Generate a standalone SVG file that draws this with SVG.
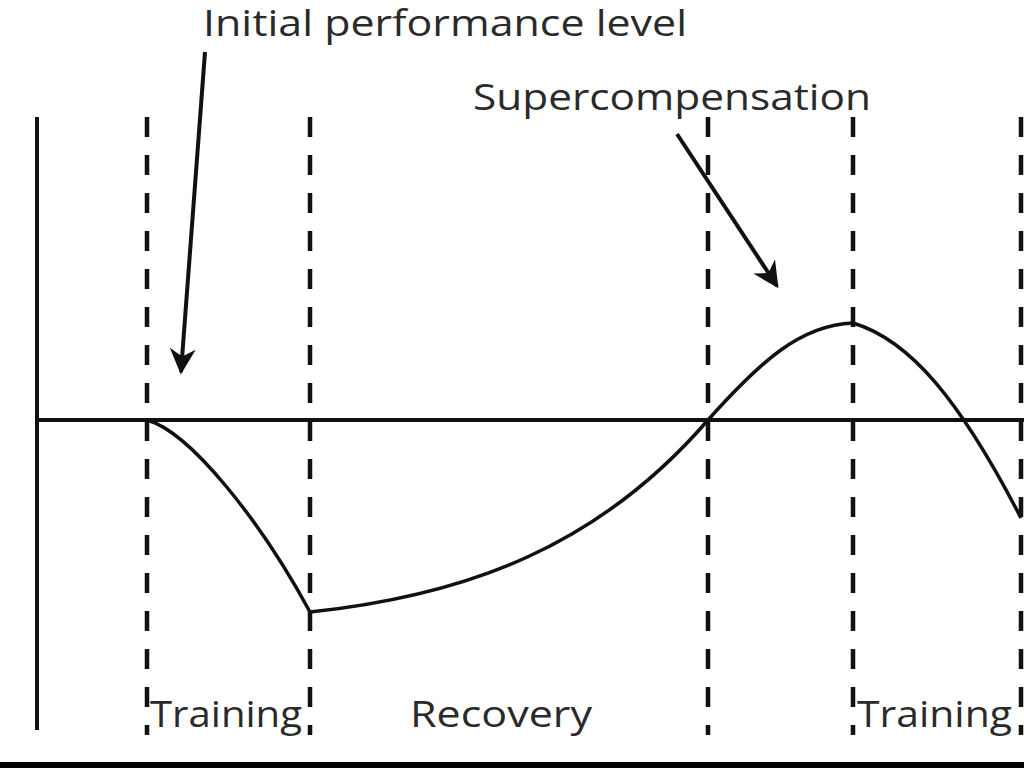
<svg xmlns="http://www.w3.org/2000/svg" width="1024" height="768" viewBox="0 0 1024 768">
<style>
.ax{stroke:#111;stroke-width:4;fill:none}
.dash{stroke:#111;stroke-width:4.5;stroke-dasharray:20 18;fill:none}
.curve{stroke:#111;stroke-width:3.5;fill:none;stroke-linejoin:round}
.arr{stroke:#111;stroke-width:4;fill:none}
.t{font-family:"Open Sans","Liberation Sans",sans-serif;fill:#2a2a2a;font-size:36px}
</style>
<defs>
<marker id="ah" viewBox="0 0 10 10" refX="9" refY="5" markerWidth="6.5" markerHeight="6.5" markerUnits="strokeWidth" orient="auto">
<path d="M0,0 L10,5 L0,10 L3,5 Z" fill="#111"/>
</marker>
</defs>
<rect width="1024" height="768" fill="#fff"/>
<g id="axes">
<line class="ax" x1="37" y1="117" x2="37" y2="730"/>
<line class="ax" x1="37" y1="420" x2="1024" y2="420"/>
</g>
<g id="dividers">
<line class="dash" x1="147" y1="117" x2="147" y2="735"/>
<line class="dash" x1="310" y1="117" x2="310" y2="735"/>
<line class="dash" x1="708" y1="117" x2="708" y2="735"/>
<line class="dash" x1="853" y1="117" x2="853" y2="735"/>
<line class="dash" x1="1021" y1="117" x2="1021" y2="735"/>
</g>
<g id="curve">
<path class="curve" d="M147,420 C190,432 260,520 310,612 C470,595 600,545 708,420 C760,362 800,325 853,323 C910,340 960,400 1021,518"/>
</g>
<g id="connectors">
<line class="arr" x1="205" y1="52" x2="181" y2="372" marker-end="url(#ah)"/>
<line class="arr" x1="677" y1="134" x2="777" y2="286" marker-end="url(#ah)"/>
</g>
<g id="labels">
<text class="t" x="203" y="36" font-size="33" textLength="484" lengthAdjust="spacingAndGlyphs">Initial performance level</text>
<text class="t" x="473" y="110" textLength="398" lengthAdjust="spacingAndGlyphs">Supercompensation</text>
<text class="t" x="150" y="727" textLength="152" lengthAdjust="spacingAndGlyphs">Training</text>
<text class="t" x="410" y="727" textLength="182" lengthAdjust="spacingAndGlyphs">Recovery</text>
<text class="t" x="857" y="727" textLength="155" lengthAdjust="spacingAndGlyphs">Training</text>
</g>
<rect x="0" y="762" width="1024" height="6" fill="#000"/>
</svg>
